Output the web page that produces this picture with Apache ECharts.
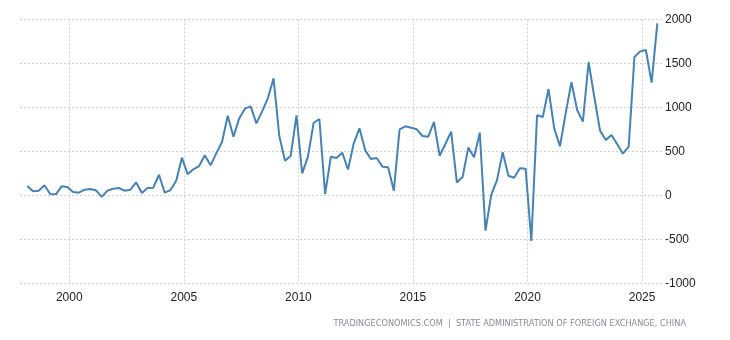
<!DOCTYPE html>
<html>
<head>
<meta charset="utf-8">
<script src="https://cdn.jsdelivr.net/npm/echarts@6/dist/echarts.min.js"></script>
<style>html,body{margin:0;padding:0;background:#fff}#c{width:730px;height:340px}</style>
</head>
<body>
<div id="c"></div>
<script>
// Quarterly periods: 1998 Q1 .. 2025 Q3 (dated at the start of each quarter's last month)
const startYear = 1998;
const quarters = [];
for (let y = startYear; y <= 2025; y++) {
  for (let q = 1; q <= 4; q++) {
    if (y === 2025 && q > 3) break;
    quarters.push(y + '-' + String(q * 3).padStart(2, '0'));
  }
}
const values = [
  108, 48, 55, 116, 17, 13, 104, 97, 40, 32,
  66, 74, 59, -15, 55, 77, 85, 55, 66, 150,
  28, 85, 89, 236, 32, 62, 168, 430, 241, 297,
  335, 457, 343, 479, 608, 907, 668, 876, 987, 1013,
  820, 956, 1104, 1331, 676, 396, 452, 911, 252, 441,
  827, 869, 17, 441, 426, 486, 295, 593, 763, 513,
  415, 426, 328, 320, 55, 752, 786, 771, 752, 676,
  668, 835, 452, 585, 725, 148, 210, 544, 434, 714,
  -400, 6, 172, 491, 225, 202, 309, 305, -517, 911,
  892, 1210, 763, 560, 934, 1288, 972, 839, 1517, 1116,
  737, 631, 688, 582, 475, 555, 1574, 1638, 1653, 1282,
  1957
];
const xTicks = [2000, 2005, 2010, 2015, 2020, 2025];
const yTicks = [-1000, -500, 0, 500, 1000, 1500, 2000];
const sourceText = 'TRADINGECONOMICS.COM  |  STATE ADMINISTRATION OF FOREIGN EXCHANGE, CHINA';

function toYear(s) {
  const [y, m] = s.split('-').map(Number);
  return y + (m - 1) / 12;
}
const seriesData = quarters.map((q, i) => [toYear(q), values[i]]);

const chart = echarts.init(document.getElementById('c'), null, {renderer: 'canvas'});
chart.setOption({
  animation: false,
  backgroundColor: '#ffffff',
  grid: {left: 20, right: 68, top: 19.5, bottom: 56.5, containLabel: false},
  xAxis: {
    type: 'value',
    min: 1997.85,
    max: 2025.87,
    axisLine: {show: false},
    axisTick: {show: false, customValues: xTicks},
    axisLabel: {
      customValues: xTicks,
      color: '#222',
      fontFamily: 'Liberation Sans, Arial, sans-serif',
      fontSize: 12,
      margin: 8,
      formatter: v => String(Math.round(v))
    },
    splitLine: {show: true, lineStyle: {color: '#cfcfcf', type: [2, 2], width: 1}}
  },
  yAxis: {
    type: 'value',
    position: 'right',
    min: yTicks[0],
    max: yTicks[yTicks.length - 1],
    interval: 500,
    axisLine: {show: false},
    axisTick: {show: false},
    axisLabel: {
      color: '#222',
      fontFamily: 'Liberation Sans, Arial, sans-serif',
      fontSize: 12,
      margin: 3,
      align: 'left',
      formatter: v => String(v)
    },
    splitLine: {show: true, lineStyle: {color: '#cfcfcf', type: [2, 2], width: 1}}
  },
  series: [{
    type: 'line',
    data: seriesData,
    showSymbol: false,
    symbol: 'none',
    lineStyle: {color: '#4682b4', width: 2},
    z: 3
  }],
  graphic: [{
    type: 'text',
    right: 44,
    top: 320,
    style: {
      text: sourceText,
      fill: '#8a8a9a',
      font: '8.2px "DejaVu Sans", sans-serif'
    }
  }]
});
</script>
</body>
</html>
